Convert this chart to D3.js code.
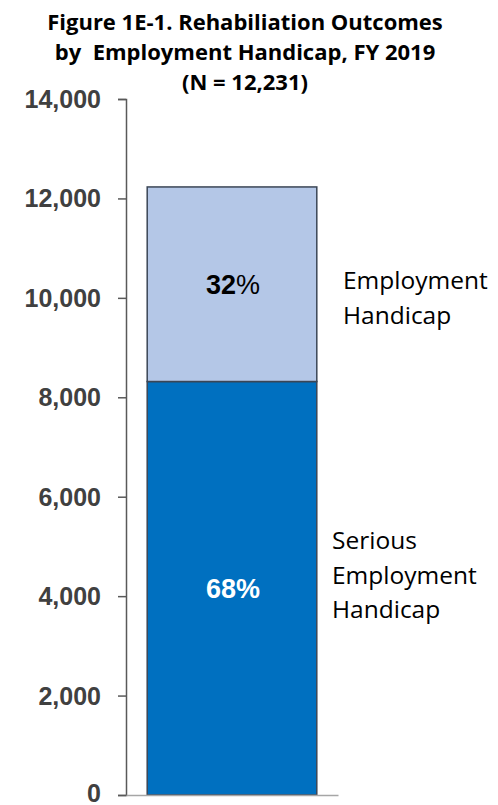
<!DOCTYPE html>
<html>
<head>
<meta charset="utf-8">
<script src="https://cdn.jsdelivr.net/npm/d3@7"></script>
<style>
  body { margin: 0; background: #fff; }
  .title { font-family: "Open Sans", sans-serif; font-weight: bold; font-size: 22px; fill: #000; white-space: pre; }
  .yaxis text { font-family: "Liberation Sans", Arial, sans-serif; font-weight: bold; font-size: 25px; fill: #404040; }
  .pct { font-family: "Liberation Sans", Arial, sans-serif; font-weight: bold; font-size: 27px; }
  .legend { font-family: "Open Sans", sans-serif; font-size: 24.5px; fill: #000; }
</style>
</head>
<body>
<script>
//data
var categories = ["FY 2019"];
var seriesNames = ["Serious Employment Handicap", "Employment Handicap"];
var seriesKeys = ["serious", "employment"];
var seriousValues = [8317];
var employmentValues = [3914];
var tickValues = [0, 2000, 4000, 6000, 8000, 10000, 12000, 14000];
var titleLines = ["Figure 1E-1. Rehabiliation Outcomes", "by  Employment Handicap, FY 2019", "(N = 12,231)"];
var legendLines = [["Serious", "Employment", "Handicap"], ["Employment", "Handicap"]];

var colors = ["#0070c0", "#b4c7e7"];
var labelColors = ["#fff", "#000"];

var width = 498, height = 805;
var x0 = 126, x1 = 338, yTop = 99, yBottom = 795;

var table = categories.map(function (c, i) {
    return { cat: c, serious: seriousValues[i], employment: employmentValues[i] };
});
var total = d3.sum(seriesKeys, function (k) { return table[0][k]; });

var stack = d3.stack().keys(seriesKeys)(table);

//scales
var x = d3.scaleBand()
    .domain(categories)
    .range([x0, x1])
    .paddingInner(0.2)
    .paddingOuter(0.1);
var y = d3.scaleLinear()
    .domain([0, 14000])
    .range([yBottom, yTop]);

var svg = d3.select("body")
    .append("svg")
    .attr("width", width)
    .attr("height", height);

//title
svg.append("text")
    .attr("class", "title")
    .attr("text-anchor", "middle")
    .selectAll("tspan")
    .data(titleLines)
    .enter().append("tspan")
    .attr("x", 245)
    .attr("y", function (d, i) { return 30 + i * 30; })
    .text(function (d) { return d; });

//bars
var layers = svg.append("g").selectAll(".layer")
    .data(stack)
    .enter().append("g")
    .attr("class", "layer")
    .attr("fill", function (d, i) { return colors[i]; });

layers.selectAll("rect")
    .data(function (d) { return d; })
    .enter().append("rect")
    .attr("x", function (d) { return x(d.data.cat); })
    .attr("y", function (d) { return y(d[1]); })
    .attr("width", x.bandwidth())
    .attr("height", function (d) { return y(d[0]) - y(d[1]); })
    .attr("stroke", "#3b4656")
    .attr("stroke-width", 1.5);

//percent labels
var pct = d3.format(".0%");
stack.forEach(function (s, i) {
    s.forEach(function (d) {
        var t = svg.append("text")
            .attr("class", "pct")
            .attr("x", x(d.data.cat) + x.bandwidth() / 2 + 1)
            .attr("y", y((d[0] + d[1]) / 2) + 10)
            .attr("text-anchor", "middle")
            .attr("fill", labelColors[i]);
        var p = pct((d[1] - d[0]) / total);
        t.append("tspan").text(p.slice(0, -1));
        t.append("tspan").attr("font-weight", i === 1 ? "normal" : "bold").text("%");
    });
});

//y axis
var yAxis = svg.append("g")
    .attr("class", "yaxis")
    .attr("transform", "translate(" + x0 + ",0)")
    .call(d3.axisLeft(y)
        .tickValues(tickValues)
        .tickFormat(d3.format(","))
        .tickSize(8)
        .tickSizeOuter(8)
        .tickPadding(17));
yAxis.select(".domain").attr("stroke", "#595959").attr("stroke-width", 1.5);
yAxis.selectAll(".tick line").attr("stroke", "#595959").attr("stroke-width", 1.5);
yAxis.selectAll(".tick text").attr("dy", function (d) { return d === 0 ? "0.26em" : "0.34em"; });

//x axis baseline
var xAxis = svg.append("g")
    .attr("transform", "translate(0," + yBottom + ")")
    .call(d3.axisBottom(x).tickValues([]).tickSizeOuter(0));
xAxis.select(".domain").attr("stroke", "#a6a6a6").attr("stroke-width", 1.5);

//legend labels, beside each segment
var legendX = [332, 343];
var legendDy = [-39, 5];
stack.forEach(function (s, i) {
    var d = s[0];
    var cy = y((d[0] + d[1]) / 2);
    svg.append("text")
        .attr("class", "legend")
        .selectAll("tspan")
        .data(legendLines[i])
        .enter().append("tspan")
        .attr("x", legendX[i])
        .attr("y", function (t, j) { return cy + legendDy[i] + j * 34.5; })
        .text(function (t) { return t; });
});
</script>
</body>
</html>
